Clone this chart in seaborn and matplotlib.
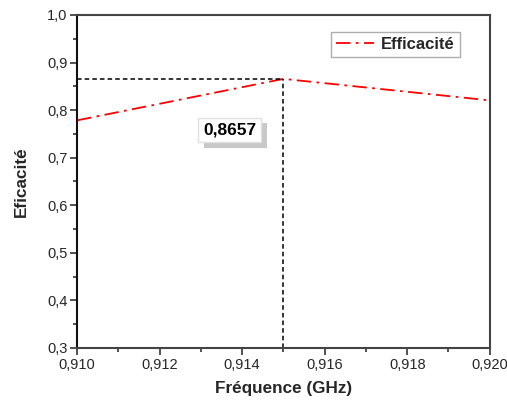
import matplotlib
matplotlib.use("Agg")
import matplotlib.pyplot as plt
import matplotlib.patheffects as pe
from matplotlib.ticker import FuncFormatter, MultipleLocator
import seaborn as sns
import pandas as pd

freq_ghz = [0.910, 0.915, 0.920]
efficacite = [0.7785, 0.8657, 0.8205]
peak_freq = 0.915
peak_value = 0.8657

sns.set_theme(style="white")
plt.rcParams["font.family"] = ["Liberation Sans", "DejaVu Sans"]

df = pd.DataFrame({"freq": freq_ghz, "eff": efficacite})

fig = plt.figure(figsize=(5.07, 4.03), dpi=100)
ax = fig.add_axes([0.152, 0.1365, 0.814, 0.8263])

sns.lineplot(data=df, x="freq", y="eff", ax=ax, color="red", linewidth=1.3,
             dashes=False, label="Efficacité")
ax.lines[0].set_linestyle((0, (8, 3, 1.5, 3)))

# guide lines to the peak
ax.plot([0.910, peak_freq], [peak_value, peak_value], color="black",
        linestyle=(0, (3, 2)), linewidth=1.1)
ax.plot([peak_freq, peak_freq], [0.3, peak_value], color="black",
        linestyle=(0, (3, 2)), linewidth=1.1)

ax.set_xlim(0.910, 0.920)
ax.set_ylim(0.3, 1.0)
ax.xaxis.set_major_locator(MultipleLocator(0.002))
ax.xaxis.set_minor_locator(MultipleLocator(0.001))
ax.yaxis.set_major_locator(MultipleLocator(0.1))
ax.yaxis.set_minor_locator(MultipleLocator(0.05))
ax.xaxis.set_major_formatter(FuncFormatter(lambda v, p: f"{v:.3f}".replace(".", ",")))
ax.yaxis.set_major_formatter(FuncFormatter(lambda v, p: f"{v:.1f}".replace(".", ",")))

ax.tick_params(axis="both", which="major", direction="out", length=5, width=1.2,
               color="#333333", labelsize=10.5, pad=2, bottom=True, left=True)
ax.tick_params(axis="both", which="minor", direction="out", length=3, width=1.2,
               color="#333333", bottom=True, left=True)
for s in ax.spines.values():
    s.set_color("#444444")
    s.set_linewidth(1.5)
ax.spines["left"].set_color("#111111")

ax.set_xlabel("Fréquence (GHz)", fontsize=12.3, fontweight="bold", labelpad=7)
ax.set_ylabel("Eficacité", fontsize=12.3, fontweight="bold", labelpad=13)

leg = ax.legend(loc="upper right", bbox_to_anchor=(0.927, 0.95), borderaxespad=0,
                frameon=True, fancybox=False, prop={"size": 12, "weight": "bold"},
                handlelength=2.3, handletextpad=0.4, borderpad=0.3)
leg.get_frame().set_edgecolor("#999999")
leg.get_frame().set_linewidth(1.0)

# value label in a white box with a grey drop shadow
label = ax.annotate("0,8657", xy=(0.91370, 0.758), ha="center", va="center",
                    fontsize=12.5, fontweight="bold", color="black",
                    bbox=dict(boxstyle="square,pad=0.28", facecolor="white",
                              edgecolor="#e0e0e0"))
label.get_bbox_patch().set_path_effects([
    pe.SimplePatchShadow(offset=(4, -4), shadow_rgbFace="#c8c8c8", alpha=1.0),
    pe.Normal(),
])

fig.savefig("out.png", dpi=100)
